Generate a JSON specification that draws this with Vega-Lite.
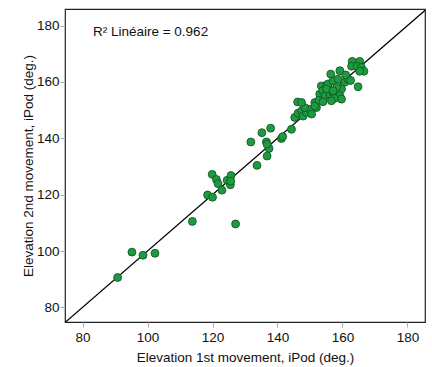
{
  "$schema": "https://vega.github.io/schema/vega-lite/v6.json",
  "autosize": "none",
  "width": 360,
  "height": 313,
  "padding": {"left": 65, "top": 9, "right": 7, "bottom": 45},
  "background": "white",
  "config": {
    "view": {"stroke": "#222", "strokeWidth": 1.2},
    "font": "Liberation Sans",
    "axis": {"grid": false, "domain": false, "labelFont": "Liberation Sans", "titleFont": "Liberation Sans", "labelFontSize": 13.5, "titleFontSize": 13.5, "titleFontWeight": "normal", "labelColor": "#111", "titleColor": "#111", "tickColor": "#aaa", "tickSize": 5}
  },
  "datasets": {
    "pts": [
      {"x": 90.8, "y": 90.6}, {"x": 95.2, "y": 99.6}, {"x": 98.6, "y": 98.5}, {"x": 102.3, "y": 99.2},
      {"x": 113.8, "y": 110.5}, {"x": 118.5, "y": 119.9}, {"x": 120.0, "y": 119.1}, {"x": 127.1, "y": 109.6},
      {"x": 119.9, "y": 127.2}, {"x": 121.2, "y": 125.4}, {"x": 121.7, "y": 123.9}, {"x": 122.9, "y": 121.6},
      {"x": 124.5, "y": 125.1}, {"x": 125.7, "y": 126.8}, {"x": 125.5, "y": 123.5}, {"x": 125.6, "y": 124.8},
      {"x": 131.8, "y": 138.7}, {"x": 133.7, "y": 130.4}, {"x": 136.6, "y": 138.7}, {"x": 137.4, "y": 136.4},
      {"x": 136.8, "y": 133.7}, {"x": 135.2, "y": 142.0}, {"x": 137.9, "y": 143.6}, {"x": 136.8, "y": 137.9},
      {"x": 141.2, "y": 139.9}, {"x": 141.6, "y": 140.6}, {"x": 144.3, "y": 143.2}, {"x": 145.3, "y": 147.4},
      {"x": 146.3, "y": 148.9}, {"x": 147.4, "y": 149.7}, {"x": 147.9, "y": 147.9}, {"x": 148.9, "y": 149.2},
      {"x": 149.9, "y": 150.3}, {"x": 150.5, "y": 148.6}, {"x": 146.2, "y": 152.9}, {"x": 148.4, "y": 150.9},
      {"x": 151.5, "y": 152.7}, {"x": 152.0, "y": 150.9}, {"x": 147.4, "y": 152.7}, {"x": 151.5, "y": 151.5},
      {"x": 153.0, "y": 155.7}, {"x": 153.5, "y": 158.6}, {"x": 155.1, "y": 158.9}, {"x": 155.6, "y": 157.5},
      {"x": 154.0, "y": 156.9}, {"x": 154.6, "y": 155.1}, {"x": 156.1, "y": 155.7}, {"x": 157.1, "y": 156.3},
      {"x": 159.7, "y": 157.5}, {"x": 159.2, "y": 155.1}, {"x": 157.6, "y": 154.2}, {"x": 156.6, "y": 153.3},
      {"x": 159.7, "y": 153.9}, {"x": 155.6, "y": 159.3}, {"x": 157.1, "y": 160.4}, {"x": 158.2, "y": 158.1},
      {"x": 160.7, "y": 159.9}, {"x": 155.1, "y": 157.5}, {"x": 157.1, "y": 156.9}, {"x": 156.4, "y": 162.8},
      {"x": 159.2, "y": 164.0}, {"x": 158.6, "y": 161.0}, {"x": 161.7, "y": 161.0}, {"x": 164.8, "y": 158.3},
      {"x": 163.0, "y": 167.3}, {"x": 165.3, "y": 167.3}, {"x": 162.8, "y": 165.6}, {"x": 164.5, "y": 165.6},
      {"x": 165.8, "y": 165.2}, {"x": 166.6, "y": 163.8}, {"x": 165.3, "y": 163.8}, {"x": 152.8, "y": 153.5},
      {"x": 154.0, "y": 153.0}, {"x": 161.0, "y": 162.5}, {"x": 162.5, "y": 160.5}
    ],
    "diag": [{"x": 74.6, "y": 74.6}, {"x": 185.9, "y": 185.9}],
    "label": [{"x": 83.2, "y": 177.8, "t": "R² Linéaire = 0.962"}]
  },
  "layer": [
    {
      "data": {"name": "diag"},
      "mark": {"type": "line", "color": "#000", "strokeWidth": 1.2, "clip": true},
      "encoding": {
        "x": {"field": "x", "type": "quantitative", "scale": {"domain": [74.6, 185.4], "nice": false, "zero": false},
              "axis": {"values": [80, 100, 120, 140, 160, 180], "title": "Elevation 1st movement, iPod (deg.)", "labelPadding": 3, "titlePadding": 7}},
        "y": {"field": "y", "type": "quantitative", "scale": {"domain": [74.8, 185.9], "nice": false, "zero": false},
              "axis": {"values": [80, 100, 120, 140, 160, 180], "title": "Elevation 2nd movement, iPod (deg.)", "labelPadding": 1, "titlePadding": 1}}
      }
    },
    {
      "data": {"name": "pts"},
      "mark": {"type": "circle", "size": 62, "fill": "#1f9a41", "stroke": "#0f5a24", "strokeWidth": 0.9, "opacity": 1},
      "encoding": {
        "x": {"field": "x", "type": "quantitative"},
        "y": {"field": "y", "type": "quantitative"}
      }
    },
    {
      "data": {"name": "label"},
      "mark": {"type": "text", "align": "left", "baseline": "middle", "fontSize": 13.5, "font": "Liberation Sans", "color": "#111"},
      "encoding": {
        "x": {"field": "x", "type": "quantitative"},
        "y": {"field": "y", "type": "quantitative"},
        "text": {"field": "t"}
      }
    }
  ]
}
